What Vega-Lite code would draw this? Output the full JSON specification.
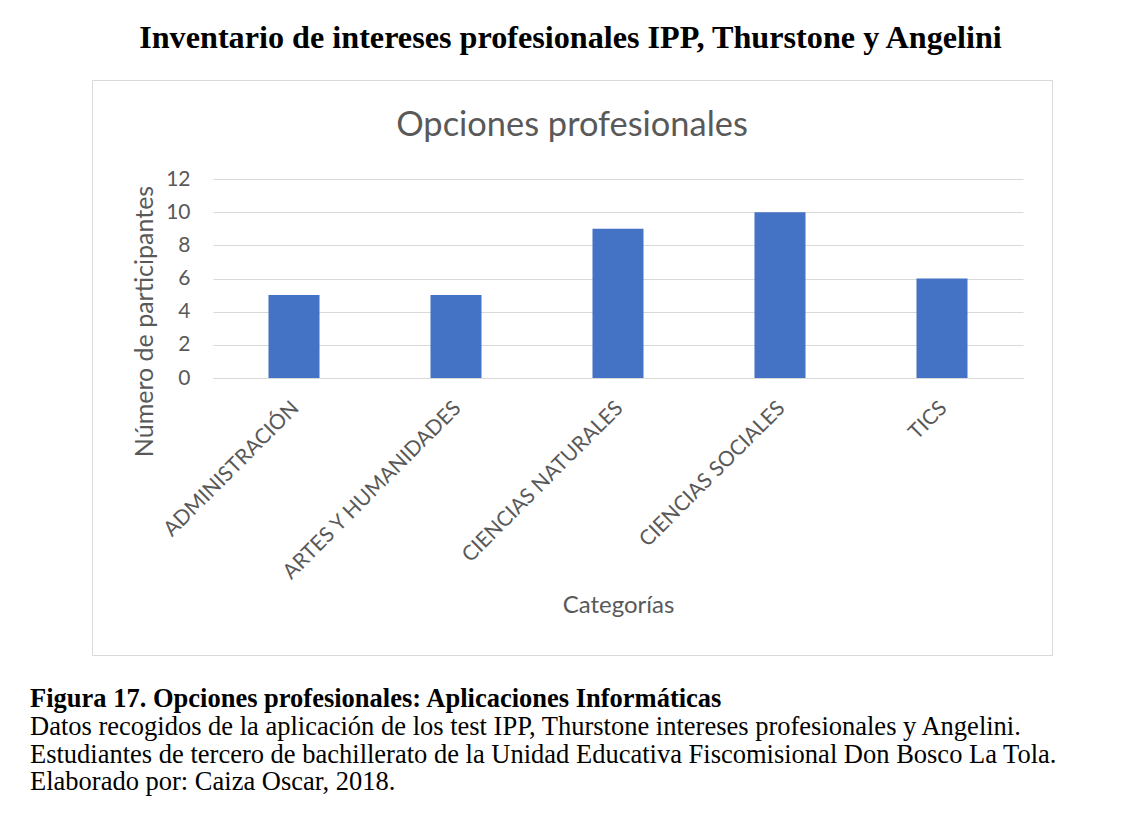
{
  "$schema": "https://vega.github.io/schema/vega-lite/v6.json",
  "background": "white",
  "padding": {"left": 30, "top": 22, "right": 5, "bottom": 5},
  "title": {
    "text": "Inventario de intereses profesionales IPP, Thurstone y Angelini",
    "font": "Liberation Serif",
    "fontSize": 32.2,
    "fontWeight": "bold",
    "color": "#000000",
    "anchor": "middle",
    "dx": 27,
    "offset": 24
  },
  "datasets": {
    "opciones": [
      {"categoria": "ADMINISTRACIÓN", "participantes": 5},
      {"categoria": "ARTES Y HUMANIDADES", "participantes": 5},
      {"categoria": "CIENCIAS NATURALES", "participantes": 9},
      {"categoria": "CIENCIAS SOCIALES", "participantes": 10},
      {"categoria": "TICS", "participantes": 6}
    ]
  },
  "spacing": 30,
  "vconcat": [
    {
      "width": 960,
      "height": 575,
      "data": {"name": "opciones"},
      "view": {"stroke": "#d9d9d9", "strokeWidth": 1},
      "title": {
        "text": "Opciones profesionales",
        "font": "Lato",
        "fontSize": 34.4,
        "fontWeight": "normal",
        "color": "#595959",
        "anchor": "middle",
        "frame": "group",
        "offset": -63
      },
      "mark": {"type": "bar", "color": "#4472C4"},
      "encoding": {
        "x": {
          "field": "categoria",
          "type": "nominal",
          "sort": null,
          "scale": {"range": [121, 931], "paddingInner": 0.685, "paddingOuter": 0.3425},
          "axis": {
            "title": "Categorías",
            "orient": "bottom",
            "offset": -277,
            "labelAngle": -45,
            "labelFont": "Lato",
            "labelFontSize": 21,
            "labelColor": "#595959",
            "labelPadding": 19,
            "labelOffset": -6,
            "labelLimit": 500,
            "labelOverlap": false,
            "ticks": false,
            "domain": true,
            "domainColor": "#d9d9d9",
            "domainWidth": 1,
            "grid": false,
            "titleFont": "Lato",
            "titleFontSize": 24,
            "titleFontWeight": "normal",
            "titleColor": "#595959",
            "titlePadding": 15
          }
        },
        "y": {
          "field": "participantes",
          "type": "quantitative",
          "scale": {"domain": [0, 12], "range": [298, 99], "nice": false, "zero": true},
          "axis": {
            "title": "Número de participantes",
            "values": [0, 2, 4, 6, 8, 10, 12],
            "offset": -121,
            "domain": false,
            "ticks": false,
            "labelPadding": 23,
            "labelFont": "Lato",
            "labelFontSize": 21,
            "labelColor": "#595959",
            "grid": true,
            "gridColor": "#d9d9d9",
            "gridWidth": 1,
            "titleFont": "Lato",
            "titleFontSize": 25,
            "titleFontWeight": "normal",
            "titleColor": "#595959",
            "titlePadding": 8,
            "titleY": 241
          }
        }
      }
    },
    {
      "width": 960,
      "height": 1,
      "data": {"values": []},
      "view": {"stroke": null},
      "mark": "point",
      "title": {
        "text": "Figura 17. Opciones profesionales: Aplicaciones Informáticas",
        "subtitle": [
          "Datos recogidos de la aplicación de los test IPP, Thurstone intereses profesionales y Angelini.",
          "Estudiantes de tercero de bachillerato de la Unidad Educativa Fiscomisional Don Bosco La Tola.",
          "Elaborado por: Caiza Oscar, 2018."
        ],
        "anchor": "start",
        "frame": "group",
        "dx": -62,
        "offset": 0,
        "font": "Liberation Serif",
        "fontSize": 26.5,
        "fontWeight": "bold",
        "color": "#000000",
        "subtitleFont": "Liberation Serif",
        "subtitleFontSize": 26.5,
        "subtitleFontWeight": "normal",
        "subtitleColor": "#000000",
        "subtitleLineHeight": 27.7,
        "subtitlePadding": 1.5
      }
    }
  ]
}
